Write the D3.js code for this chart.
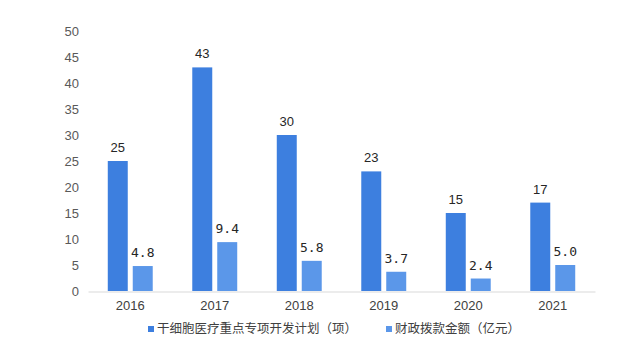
<!DOCTYPE html>
<html><head><meta charset="utf-8">
<script src="https://cdn.jsdelivr.net/npm/d3@7"></script>
<style>body{margin:0;background:#fff}svg{display:block}</style>
</head><body>
<script>
const years = ["2016","2017","2018","2019","2020","2021"];
const projects = [25, 43, 30, 23, 15, 17];
const funding = [4.8, 9.4, 5.8, 3.7, 2.4, 5.0];
const seriesNames = ["干细胞医疗重点专项开发计划（项）", "财政拨款金额（亿元）"];
const yTicks = [0,5,10,15,20,25,30,35,40,45,50];
const colors = ["#3d7fdf", "#5b97e9"];

const W = 640, H = 358;
const svg = d3.select("body").append("svg").attr("width", W).attr("height", H);
const font = "'Noto Sans CJK SC', 'Liberation Sans', Arial, sans-serif";

const x0 = d3.scaleBand().domain(years).range([88, 595]).paddingInner(0.468).paddingOuter(0.234);
const x1 = d3.scaleBand().domain([0,1]).range([0, x0.bandwidth()]).paddingInner(0.2);
const y = d3.scaleLinear().domain([0, 50]).range([291, 31]);

// y axis labels
const yAxis = d3.axisLeft(y).tickValues(yTicks).tickSize(0).tickPadding(0);
const yg = svg.append("g").attr("transform", "translate(79,0)").call(yAxis);
yg.select(".domain").remove();
yg.selectAll("text").attr("font-family", "'Liberation Sans', Arial, sans-serif").attr("font-size", 13).attr("fill", "#595959");

// x axis
const xAxis = d3.axisBottom(x0).tickSize(0).tickPadding(9);
const xg = svg.append("g").attr("transform", "translate(0,291.5)").call(xAxis);
xg.select(".domain").attr("stroke", "#d9d9d9").attr("stroke-width", 1);
xg.selectAll("text").attr("font-family", "'Liberation Sans', Arial, sans-serif").attr("font-size", 13).attr("fill", "#404040");

const data = years.map((yr, i) => ({year: yr, vals: [projects[i], funding[i]]}));
const g = svg.append("g").selectAll("g").data(data).join("g")
  .attr("transform", d => `translate(${x0(d.year)},0)`);
g.selectAll("rect").data(d => d.vals.map((v, k) => ({v, k}))).join("rect")
  .attr("x", d => x1(d.k)).attr("width", x1.bandwidth())
  .attr("y", d => y(d.v)).attr("height", d => y(0) - y(d.v))
  .attr("fill", d => colors[d.k]);
g.selectAll("text").data(d => d.vals.map((v, k) => ({v, k}))).join("text")
  .attr("x", d => x1(d.k) + x1.bandwidth() / 2)
  .attr("y", d => y(d.v) - 9)
  .attr("text-anchor", "middle")
  .attr("font-family", d => d.k === 0 ? "'Liberation Sans', Arial, sans-serif" : "'DejaVu Sans Mono', monospace")
  .attr("font-size", 13)
  .attr("fill", "#262626")
  .text(d => d.k === 0 ? d.v : d.v.toFixed(1));

// legend
const legX = [148, 386];
const lg = svg.append("g").selectAll("g").data(seriesNames).join("g")
  .attr("transform", (d, i) => `translate(${legX[i]},329)`);
lg.append("rect").attr("x", 0).attr("y", -3).attr("width", 6).attr("height", 6).attr("fill", (d, i) => colors[i]);
lg.append("text").attr("x", 9).attr("y", 0).attr("dy", "0.35em")
  .attr("font-family", font).attr("font-size", 12.5).attr("fill", "#404040").text(d => d);
</script>
</body></html>
